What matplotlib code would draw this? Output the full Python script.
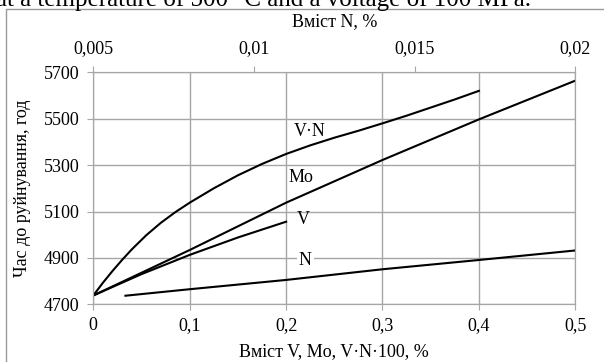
import matplotlib.pyplot as plt
from matplotlib.patches import Rectangle
from matplotlib.ticker import FuncFormatter

plt.rcParams['font.family'] = ['Liberation Serif', 'DejaVu Serif']

# data
vn_x = [0, 0.01, 0.02, 0.03, 0.04, 0.055, 0.07, 0.085, 0.1, 0.125, 0.15, 0.175,
        0.2, 0.225, 0.25, 0.275, 0.3, 0.325, 0.35, 0.375, 0.4]
vn_y = [4738, 4793, 4844, 4892, 4937, 4998, 5051, 5097, 5138, 5200, 5256, 5305,
        5348, 5385, 5418, 5448, 5480, 5513, 5548, 5583, 5620]

mo_x = [0, 0.1, 0.2, 0.3, 0.4, 0.5]
mo_y = [4738, 4934, 5138, 5322, 5497, 5664]

v_x = [0, 0.05, 0.1, 0.15, 0.2]
v_y = [4738, 4830, 4913, 4988, 5056]

n_x = [0.006, 0.008, 0.011, 0.014, 0.017, 0.02]
n_y = [4737, 4765, 4805, 4851, 4891, 4932]

x_ticks = [0, 0.1, 0.2, 0.3, 0.4, 0.5]
n_ticks = [0.005, 0.01, 0.015, 0.02]
y_ticks = [4700, 4900, 5100, 5300, 5500, 5700]

labels = ['V·N', 'Mo', 'V', 'N']
label_pos = [(0.224, 5443), (0.215, 5246), (0.218, 5066), (0.22, 4888)]

grid_col = '#a6a6a6'
fs = 13

fig = plt.figure(figsize=(6.04, 3.62), dpi=100)
fig.patches.append(Rectangle((6 / 604, -0.1), 1.0, 1 - 9.5 / 362 + 0.1,
                             transform=fig.transFigure, fill=False,
                             edgecolor='#9a9a9a', linewidth=1.0))
fig.text(-4 / 604, 1 - 6 / 362, 'at a temperature of 500 °C and a voltage of 100 MPa.',
         ha='left', va='baseline', fontsize=18)

ax = fig.add_axes([93.3 / 604, 1 - 304.3 / 362, 482 / 604, 232 / 362])
comma = FuncFormatter(lambda v, p: ('%g' % v).replace('.', ','))

ax.plot(vn_x, vn_y, color='black', lw=1.5)
ax.plot(mo_x, mo_y, color='black', lw=1.5)
ax.plot(v_x, v_y, color='black', lw=1.5)

ax.set_xlim(0, 0.5)
ax.set_ylim(4700, 5700)
ax.set_xticks(x_ticks)
ax.set_yticks(y_ticks)
ax.xaxis.set_major_formatter(comma)
ax.grid(True, color=grid_col, linewidth=1.0)
ax.set_axisbelow(True)
for s in ax.spines.values():
    s.set_color(grid_col)
ax.tick_params(colors=grid_col, labelcolor='black', labelsize=fs, length=4, direction='out')
ax.tick_params(axis='x', pad=5)
ax.tick_params(axis='y', pad=6)
ax.set_xlabel('Вміст V, Mo, V·N·100, %', fontsize=fs, labelpad=7)
ax.set_ylabel('Час до руйнування, год', fontsize=fs, labelpad=9)

ax2 = ax.twiny()
ax2.plot(n_x, n_y, color='black', lw=1.5)
ax2.set_xlim(0.005, 0.02)
ax2.set_xticks(n_ticks)
ax2.xaxis.set_major_formatter(comma)
for s in ax2.spines.values():
    s.set_color(grid_col)
ax2.tick_params(colors=grid_col, labelcolor='black', labelsize=fs, length=4, direction='out', pad=7)
ax2.set_xlabel('Вміст N, %', fontsize=fs, labelpad=10)

for t, (x, y) in zip(labels, label_pos):
    ax.text(x, y, t, ha='center', va='center', fontsize=fs, zorder=5,
            bbox=dict(facecolor='white', edgecolor='none', pad=1.5) if t == 'N' else None)

fig.savefig('out.png', dpi=100)
